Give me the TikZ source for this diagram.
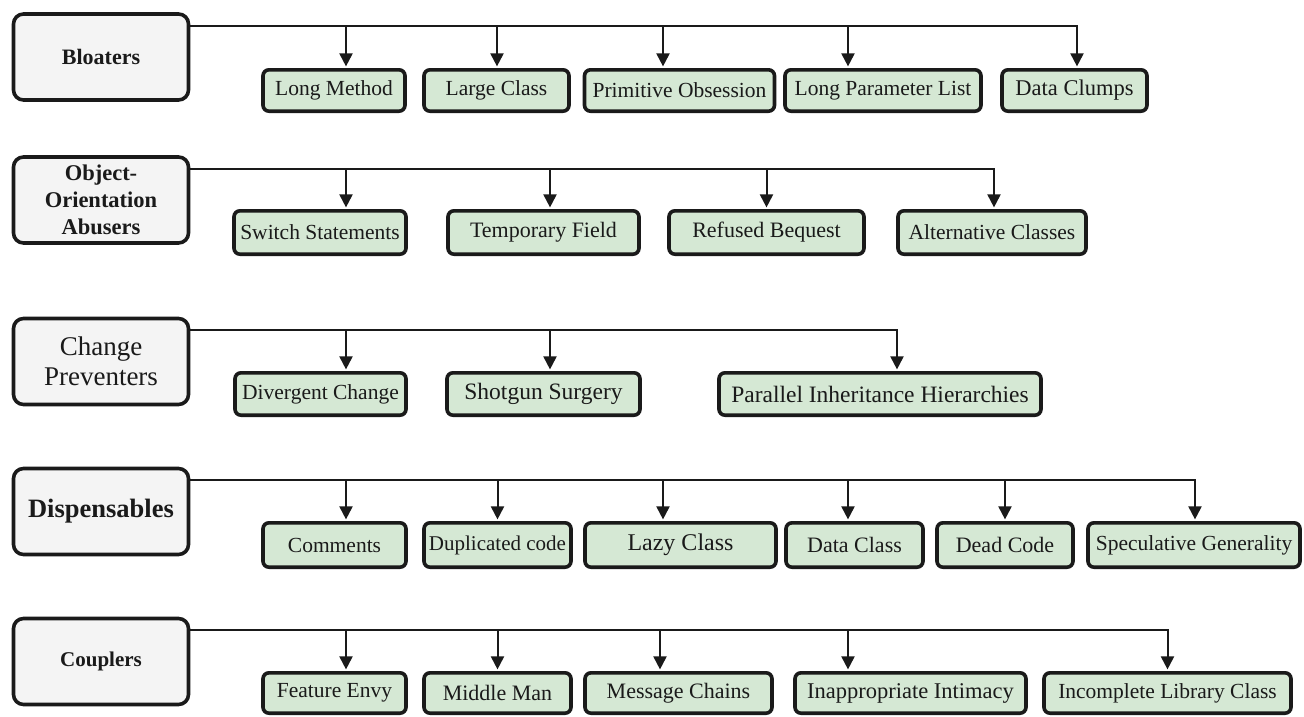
\documentclass[tikz,border=0pt]{standalone}
\usepackage{fontspec}
\setmainfont{Liberation Serif}
\usetikzlibrary{arrows.meta}
\definecolor{catfill}{HTML}{F4F4F4}
\definecolor{leaffill}{HTML}{D5E8D4}
\definecolor{ink}{HTML}{1A1A1A}
\newcommand\fsz[2]{\fontsize{#1}{#2}\selectfont}
\begin{document}
\begin{tikzpicture}[x=1pt,y=-1pt,
  cat/.style={draw=ink, line width=3.6pt, fill=catfill, rounded corners=10pt,
    minimum width=175pt, minimum height=86pt, align=center, text=ink, inner sep=2pt},
  leaf/.style={draw=ink, line width=3.6pt, fill=leaffill, rounded corners=6pt,
    inner sep=1pt, text=ink, font=\fsz{21.5}{26}},
  link/.style={draw=ink, line width=2pt, shorten >=1.6pt,
    -{Triangle[width=13pt,length=13pt]}},
]
\fill[white] (0,0) rectangle (1304,716);
\useasboundingbox (0,0) rectangle (1304,716);

% ---------- categories ----------
\node[cat, font=\bfseries\fsz{22}{26}] (bloat) at (101,57) {Bloaters};
\node[cat, font=\bfseries\fsz{22.5}{27}] (oo) at (101,200) {Object-\\Orientation\\Abusers};
\node[cat, font=\fsz{27}{30}] (change) at (101,361.5) {Change\\Preventers};
\node[cat, font=\bfseries\fsz{26.5}{30}] (disp) at (101,511.5) {Dispensables};
\node[cat, font=\bfseries\fsz{21}{26}] (coupl) at (101,661.5) {Couplers};

% ---------- Bloaters ----------
\node[leaf, minimum width=142pt, minimum height=41.4pt] (lm) at (334,90.5) {Long Method};
\node[leaf, minimum width=145pt, minimum height=41.4pt] (lc) at (496.5,90.5) {Large Class};
\node[leaf, minimum width=190pt, minimum height=41.4pt] (po) at (679.5,90.5) {Primitive Obsession};
\node[leaf, minimum width=196pt, minimum height=41.4pt] (lpl) at (883,90.5) {Long Parameter List};
\node[leaf, minimum width=145pt, minimum height=41.4pt, font=\fsz{22.5}{26}] (dclump) at (1074.5,90.5) {Data Clumps};

\draw[link] ([yshift=-13.5pt]bloat.north east) -| ([xshift=12pt]lm.north);
\draw[link] ([yshift=-13.5pt]bloat.north east) -| ([xshift=0.5pt]lc.north);
\draw[link] ([yshift=-13.5pt]bloat.north east) -| ([xshift=-16.5pt]po.north);
\draw[link] ([yshift=-13.5pt]bloat.north east) -| ([xshift=-35pt]lpl.north);
\draw[link] ([yshift=-13.5pt]bloat.north east) -| ([xshift=2.5pt]dclump.north);

% ---------- Object-Orientation Abusers ----------
\node[leaf, minimum width=172pt, minimum height=43.4pt] (sw) at (320,232.5) {Switch Statements};
\node[leaf, minimum width=191pt, minimum height=43.4pt, font=\fsz{22}{26}] (tf) at (543.5,232.5) {Temporary Field};
\node[leaf, minimum width=195pt, minimum height=43.4pt, font=\fsz{22}{26}] (rb) at (766.5,232.5) {Refused Bequest};
\node[leaf, minimum width=188pt, minimum height=43.4pt] (ac) at (992,232.5) {Alternative Classes};

\draw[link] ([yshift=-14pt]oo.north east) -| ([xshift=26pt]sw.north);
\draw[link] ([yshift=-14pt]oo.north east) -| ([xshift=6.5pt]tf.north);
\draw[link] ([yshift=-14pt]oo.north east) -| (rb.north);
\draw[link] ([yshift=-14pt]oo.north east) -| ([xshift=2pt]ac.north);

% ---------- Change Preventers ----------
\node[leaf, minimum width=171pt, minimum height=42.4pt] (dv) at (320.5,394) {Divergent Change};
\node[leaf, minimum width=193pt, minimum height=42.4pt, font=\fsz{23.5}{28}] (sg) at (543.5,394) {Shotgun Surgery};
\node[leaf, minimum width=322pt, minimum height=42.4pt, font=\fsz{23.5}{28}] (pih) at (880,394) {Parallel Inheritance Hierarchies};

\draw[link] ([yshift=-13.5pt]change.north east) -| ([xshift=25.5pt]dv.north);
\draw[link] ([yshift=-13.5pt]change.north east) -| ([xshift=6.5pt]sg.north);
\draw[link] ([yshift=-13.5pt]change.north east) -| ([xshift=17pt]pih.north);

% ---------- Dispensables ----------
\node[leaf, minimum width=143pt, minimum height=44.4pt] (cm) at (334.5,545) {Comments};
\node[leaf, minimum width=147pt, minimum height=44.4pt, font=\fsz{21}{26}] (dup) at (497.5,545) {Duplicated code};
\node[leaf, minimum width=191pt, minimum height=44.4pt, font=\fsz{24}{28}] (lazy) at (680.5,545) {Lazy Class};
\node[leaf, minimum width=137pt, minimum height=44.4pt, font=\fsz{22}{26}] (dcl) at (854.5,545) {Data Class};
\node[leaf, minimum width=136pt, minimum height=44.4pt, font=\fsz{22}{26}] (dead) at (1005,545) {Dead Code};
\node[leaf, minimum width=212pt, minimum height=44.4pt] (spec) at (1194,545) {Speculative Generality};

\draw[link] ([yshift=-13.5pt]disp.north east) -| ([xshift=11.5pt]cm.north);
\draw[link] ([yshift=-13.5pt]disp.north east) -| (dup.north);
\draw[link] ([yshift=-13.5pt]disp.north east) -| ([xshift=-17.5pt]lazy.north);
\draw[link] ([yshift=-13.5pt]disp.north east) -| ([xshift=-6.5pt]dcl.north);
\draw[link] ([yshift=-13.5pt]disp.north east) -| (dead.north);
\draw[link] ([yshift=-13.5pt]disp.north east) -| ([xshift=1pt]spec.north);

% ---------- Couplers ----------
\node[leaf, minimum width=143pt, minimum height=40.4pt] (fe) at (334.5,693) {Feature Envy};
\node[leaf, minimum width=147pt, minimum height=40.4pt, font=\fsz{22}{26}] (mm) at (497.5,693) {Middle Man};
\node[leaf, minimum width=187pt, minimum height=40.4pt, font=\fsz{22}{26}] (mc) at (678.5,693) {Message Chains};
\node[leaf, minimum width=231pt, minimum height=40.4pt, font=\fsz{22.5}{26}] (ii) at (910.5,693) {Inappropriate Intimacy};
\node[leaf, minimum width=247pt, minimum height=40.4pt] (ilc) at (1167.5,693) {Incomplete Library Class};

\draw[link] ([yshift=-13.5pt]coupl.north east) -| ([xshift=11.5pt]fe.north);
\draw[link] ([yshift=-13.5pt]coupl.north east) -| (mm.north);
\draw[link] ([yshift=-13.5pt]coupl.north east) -| ([xshift=-18.5pt]mc.north);
\draw[link] ([yshift=-13.5pt]coupl.north east) -| ([xshift=-62.5pt]ii.north);
\draw[link] ([yshift=-13.5pt]coupl.north east) -| (ilc.north);
\end{tikzpicture}
\end{document}
